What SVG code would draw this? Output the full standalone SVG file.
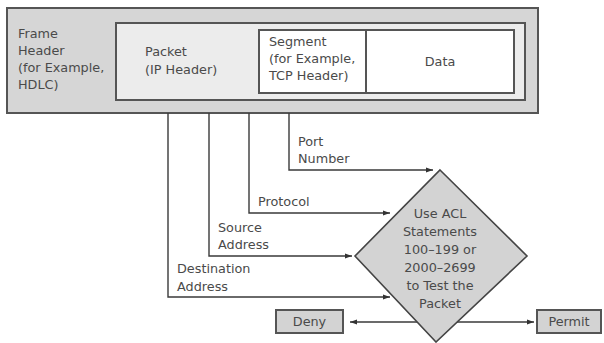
<svg xmlns="http://www.w3.org/2000/svg" width="604" height="343" viewBox="0 0 604 343">
<defs>
<marker id="ah" viewBox="0 0 10 10" refX="10" refY="5" markerWidth="7" markerHeight="7" orient="auto-start-reverse" markerUnits="userSpaceOnUse">
<path d="M0,1.5 L10,5 L0,8.5 z" fill="#333"/>
</marker>
<style>
text{font-family:"DejaVu Sans","Liberation Sans",sans-serif;font-size:12.8px;fill:#4a4a4a}
.c{text-anchor:middle}
.conn{fill:none;stroke:#3a3a3a;stroke-width:1.4}
.box{stroke:#555;stroke-width:2}
</style>
</defs>
<rect width="604" height="343" fill="#fff"/>
<g id="frame">
<rect class="box" x="7" y="8" width="531" height="105" fill="#d6d6d6"/>
<text x="18" y="38">Frame</text>
<text x="18" y="55">Header</text>
<text x="18" y="72">(for Example,</text>
<text x="18" y="89">HDLC)</text>
</g>
<g id="packet">
<rect class="box" x="116" y="23" width="409" height="77" fill="#ececec"/>
<text x="145" y="56">Packet</text>
<text x="145" y="74">(IP Header)</text>
</g>
<g id="segment">
<rect class="box" x="259" y="30" width="107" height="63" fill="#fff"/>
<text x="269" y="46">Segment</text>
<text x="269" y="63">(for Example,</text>
<text x="269" y="80">TCP Header)</text>
</g>
<g id="data">
<rect class="box" x="366" y="30" width="148" height="63" fill="#fff"/>
<text class="c" x="440" y="66">Data</text>
</g>
<g id="connectors">
<path class="conn" d="M289 113 V170 H433" marker-end="url(#ah)"/>
<path class="conn" d="M249 113 V213 H390" marker-end="url(#ah)"/>
<path class="conn" d="M209 113 V256 H352" marker-end="url(#ah)"/>
<path class="conn" d="M168 113 V297 H390" marker-end="url(#ah)"/>
<path class="conn" d="M350 322 H534" marker-start="url(#ah)" marker-end="url(#ah)"/>
<text x="298" y="146">Port</text>
<text x="298" y="163">Number</text>
<text x="258" y="206">Protocol</text>
<text x="218" y="232">Source</text>
<text x="218" y="249">Address</text>
<text x="177" y="273">Destination</text>
<text x="177" y="291">Address</text>
</g>
<g id="decision">
<polygon points="440,170 527,256 436,342 355,256" fill="#d3d3d3" stroke="#444" stroke-width="1.6"/>
<text class="c" x="440" y="218">Use ACL</text>
<text class="c" x="440" y="236">Statements</text>
<text class="c" x="440" y="254">100–199 or</text>
<text class="c" x="440" y="272">2000–2699</text>
<text class="c" x="440" y="290">to Test the</text>
<text class="c" x="440" y="308">Packet</text>
</g>
<g id="deny">
<rect class="box" x="276" y="310" width="67" height="23" fill="#d3d3d3"/>
<text class="c" x="309.5" y="326">Deny</text>
</g>
<g id="permit">
<rect class="box" x="537" y="310" width="64" height="23" fill="#d3d3d3"/>
<text class="c" x="569" y="326">Permit</text>
</g>
</svg>
